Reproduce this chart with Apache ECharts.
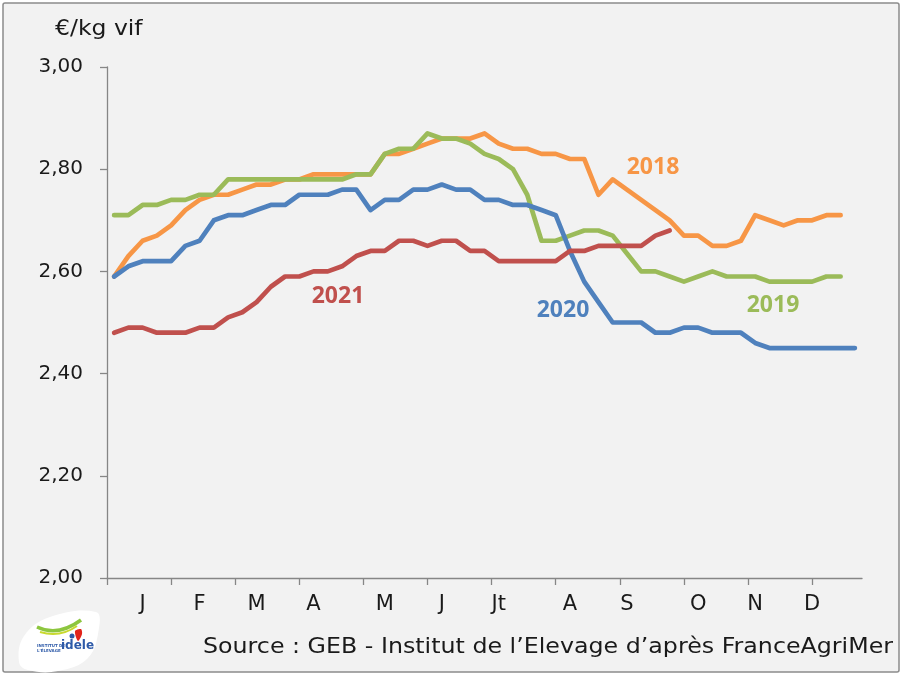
<!DOCTYPE html>
<html>
<head>
<meta charset="utf-8">
<script src="https://cdn.jsdelivr.net/npm/echarts@6/dist/echarts.min.js"></script>
<style>
  html,body{margin:0;padding:0;background:#fff;}
  #main{width:902px;height:675px;}
</style>
</head>
<body>
<div id="main"></div>
<script>
// semaines 1..53
var weeks = [];
for (var i = 1; i <= 53; i++) weeks.push(i);

var monthNames = ['J','F','M','A','M','J','Jt','A','S','O','N','D'];
var monthLabelWeeks = [3,7,11,15,20,24,28,33,37,42,46,50];
var monthTickWeeks = [0.5,5,9.5,14,18.5,23,27.5,32,36.5,41,45.5,50];

var y2018 = [2.59,2.63,2.66,2.67,2.69,2.72,2.74,2.75,2.75,2.76,2.77,2.77,2.78,2.78,2.79,2.79,2.79,2.79,2.79,2.83,
             2.83,2.84,2.85,2.86,2.86,2.86,2.87,2.85,2.84,2.84,2.83,2.83,2.82,2.82,2.75,2.78,2.76,2.74,2.72,2.70,
             2.67,2.67,2.65,2.65,2.66,2.71,2.70,2.69,2.70,2.70,2.71,2.71];
var y2019 = [2.71,2.71,2.73,2.73,2.74,2.74,2.75,2.75,2.78,2.78,2.78,2.78,2.78,2.78,2.78,2.78,2.78,2.79,2.79,2.83,
             2.84,2.84,2.87,2.86,2.86,2.85,2.83,2.82,2.80,2.75,2.66,2.66,2.67,2.68,2.68,2.67,2.635,2.60,2.60,2.59,
             2.58,2.59,2.60,2.59,2.59,2.59,2.58,2.58,2.58,2.58,2.59,2.59];
var y2020 = [2.59,2.61,2.62,2.62,2.62,2.65,2.66,2.70,2.71,2.71,2.72,2.73,2.73,2.75,2.75,2.75,2.76,2.76,2.72,2.74,
             2.74,2.76,2.76,2.77,2.76,2.76,2.74,2.74,2.73,2.73,2.72,2.71,2.64,2.58,2.54,2.50,2.50,2.50,2.48,2.48,
             2.49,2.49,2.48,2.48,2.48,2.46,2.45,2.45,2.45,2.45,2.45,2.45,2.45];
var y2021 = [2.48,2.49,2.49,2.48,2.48,2.48,2.49,2.49,2.51,2.52,2.54,2.57,2.59,2.59,2.60,2.60,2.61,2.63,2.64,2.64,
             2.66,2.66,2.65,2.66,2.66,2.64,2.64,2.62,2.62,2.62,2.62,2.62,2.64,2.64,2.65,2.65,2.65,2.65,2.67,2.68];

var font = 'DejaVu Sans';

function pairs(vals){
    return vals.map(function(v, i){ return [weeks[i], v]; });
}

function serie(name, vals, color){
    return {
        name: name,
        type: 'line',
        data: pairs(vals),
        symbol: 'none',
        smooth: false,
        lineStyle: {color: color, width: 4.7, cap: 'round', join: 'round'},
        itemStyle: {color: color},
        animation: false
    };
}

var chart = echarts.init(document.getElementById('main'));
chart.setOption({
    backgroundColor: '#ffffff',
    animation: false,
    grid: {left: 107, right: 40, top: 67, bottom: 97},
    xAxis: {
        type: 'value',
        min: 0.5,
        max: 53.5,
        splitLine: {show: false},
        axisLine: {lineStyle: {color: '#868686', width: 1.3}},
        axisTick: {show: true, customValues: monthTickWeeks, length: 7, lineStyle: {color: '#868686', width: 1.3}},
        axisLabel: {
            customValues: monthLabelWeeks,
            margin: 16,
            color: '#1a1a1a',
            fontFamily: font,
            fontSize: 21,
            formatter: function(v){
                var k = monthLabelWeeks.indexOf(v);
                return k >= 0 ? monthNames[k] : '';
            }
        }
    },
    yAxis: {
        type: 'value',
        min: 2,
        max: 3,
        interval: 0.2,
        splitLine: {show: false},
        axisLine: {show: true, lineStyle: {color: '#868686', width: 1.3}},
        axisTick: {show: true, length: 7, lineStyle: {color: '#868686', width: 1.3}},
        axisLabel: {
            margin: 24,
            color: '#1a1a1a',
            fontFamily: font,
            fontSize: 20,
            formatter: function(v){ return v.toFixed(2).replace('.', ','); }
        }
    },
    graphic: [
        {type: 'rect', z: -10, shape: {x: 3, y: 3, width: 896, height: 669, r: 2},
         style: {fill: '#f2f2f2', stroke: '#8c8c8c', lineWidth: 1.5}},
        {type: 'text', x: 55, y: 30, scaleX: 1.12, style: {text: '€/kg vif', font: '21px "DejaVu Sans"', fill: '#1a1a1a', verticalAlign: 'middle'}},
        {type: 'text', x: 203, y: 648, scaleX: 1.13, style: {text: 'Source : GEB - Institut de l\u2019Elevage d\u2019après FranceAgriMer', font: '21px "DejaVu Sans"', fill: '#1a1a1a', verticalAlign: 'middle'}},
        {type: 'text', x: 653, y: 167, style: {text: '2018', font: 'bold 23px "Noto Sans"', fill: '#f79646', align: 'center', verticalAlign: 'middle'}},
        {type: 'text', x: 773, y: 305, style: {text: '2019', font: 'bold 23px "Noto Sans"', fill: '#9bbb59', align: 'center', verticalAlign: 'middle'}},
        {type: 'text', x: 563, y: 310, style: {text: '2020', font: 'bold 23px "Noto Sans"', fill: '#4f81bd', align: 'center', verticalAlign: 'middle'}},
        {type: 'text', x: 338, y: 296, style: {text: '2021', font: 'bold 23px "Noto Sans"', fill: '#c0504d', align: 'center', verticalAlign: 'middle'}},
        // logo idele
        {type: 'polygon', shape: {points: [[19,662],[24,636],[50,617],[96,612],[99,628],[88,658],[58,671],[28,670]], smooth: 0.4},
         style: {fill: '#ffffff'}},
        {type: 'bezierCurve', shape: {x1: 37, y1: 627, x2: 81, y2: 620, cpx1: 58, cpy1: 637}, style: {fill: null, stroke: '#8dc63f', lineWidth: 3.5}},
        {type: 'bezierCurve', shape: {x1: 40, y1: 632, x2: 77, y2: 626, cpx1: 60, cpy1: 638}, style: {fill: null, stroke: '#c8d92e', lineWidth: 2}},
        {type: 'polygon', shape: {points: [[75,631],[81,629],[82,634],[78,641]], smooth: 0.3}, style: {fill: '#e2231a'}},
        {type: 'circle', shape: {cx: 72, cy: 636, r: 2.5}, style: {fill: '#2e5aa8'}},
        {type: 'text', x: 37, y: 643, style: {text: 'INSTITUT DE\nL\'ÉLEVAGE', font: 'bold 4px "DejaVu Sans"', fill: '#2e5aa8', lineHeight: 5}},
        {type: 'text', x: 61, y: 640, style: {text: 'idele', font: 'bold 12px "DejaVu Sans"', fill: '#2e5aa8'}}
    ],
    series: [
        serie('2018', y2018, '#f79646'),
        serie('2019', y2019, '#9bbb59'),
        serie('2020', y2020, '#4f81bd'),
        serie('2021', y2021, '#c0504d')
    ]
});
</script>
</body>
</html>
